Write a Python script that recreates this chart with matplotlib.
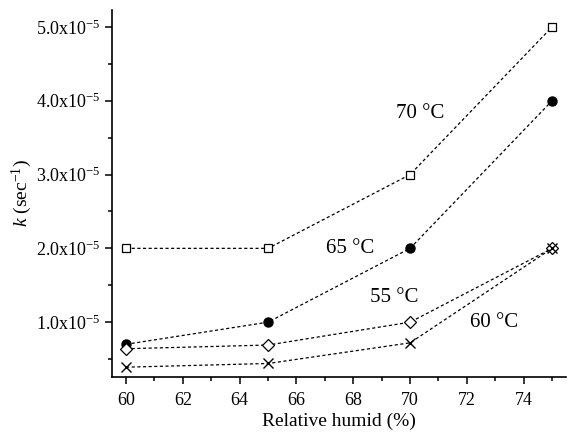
import matplotlib
matplotlib.use("Agg")
import matplotlib.pyplot as plt
from matplotlib.ticker import MultipleLocator, FixedLocator

plt.rcParams['font.family'] = 'Liberation Serif'
plt.rcParams['mathtext.fontset'] = 'custom'
plt.rcParams['mathtext.rm'] = 'Liberation Serif'
plt.rcParams['mathtext.it'] = 'Liberation Serif:italic'

humid = [60, 65, 70, 75]
k_70 = [2.0e-5, 2.0e-5, 3.0e-5, 5.0e-5]
k_65 = [0.70e-5, 1.0e-5, 2.0e-5, 4.0e-5]
k_55 = [0.64e-5, 0.69e-5, 1.0e-5, 2.0e-5]
k_60 = [0.39e-5, 0.44e-5, 0.72e-5, 2.0e-5]

ytick_vals = [1e-5, 2e-5, 3e-5, 4e-5, 5e-5]
ytick_labels = ["1.0x10$^{-5}$", "2.0x10$^{-5}$", "3.0x10$^{-5}$",
                "4.0x10$^{-5}$", "5.0x10$^{-5}$"]

fig = plt.figure(figsize=(5.68, 4.33), dpi=100)
ax = fig.add_axes([0.197, 0.129, 0.80, 0.848])

ls = (0, (2.5, 2))
ax.plot(humid, k_70, color='black', lw=0.9, ls=ls, marker='s', ms=6,
        mfc='white', mec='black', mew=0.9)
ax.plot(humid, k_65, color='black', lw=0.9, ls=ls, marker='o', ms=6.5,
        mfc='black', mec='black')
ax.plot(humid, k_55, color='black', lw=0.9, ls=ls, marker='D', ms=6,
        mfc='white', mec='black', mew=0.9)
ax.plot(humid, k_60, color='black', lw=0.9, ls=ls, marker='x', ms=7,
        mec='black', mew=1.0)

ax.text(70.35, 3.83e-5, "70 °C", fontsize=15, ha='center', va='center')
ax.text(67.9, 2.0e-5, "65 °C", fontsize=15, ha='center', va='center')
ax.text(69.44, 1.33e-5, "55 °C", fontsize=15, ha='center', va='center')
ax.text(72.94, 0.99e-5, "60 °C", fontsize=15, ha='center', va='center')

ax.set_xlim(59.5, 75.5)
ax.set_ylim(0.255e-5, 5.23e-5)
ax.xaxis.set_major_locator(MultipleLocator(2))
ax.xaxis.set_minor_locator(MultipleLocator(1))
ax.yaxis.set_major_locator(FixedLocator(ytick_vals))
ax.set_yticklabels(ytick_labels)
ax.yaxis.set_minor_locator(MultipleLocator(0.5e-5))

for s in ['top', 'right']:
    ax.spines[s].set_visible(False)
for s in ['left', 'bottom']:
    ax.spines[s].set_linewidth(1.2)

ax.tick_params(which='major', direction='out', length=5, width=1.1,
               labelsize=13)
ax.tick_params(axis='x', which='major', pad=6)
ax.tick_params(which='minor', direction='out', length=3, width=1.1)

ax.set_xlabel("Relative humid (%)", fontsize=14, labelpad=2)
ax.set_ylabel("$\\mathit{k}$ (sec$^{-1}$)", fontsize=14, labelpad=1)

fig.savefig("out.png", dpi=100)
